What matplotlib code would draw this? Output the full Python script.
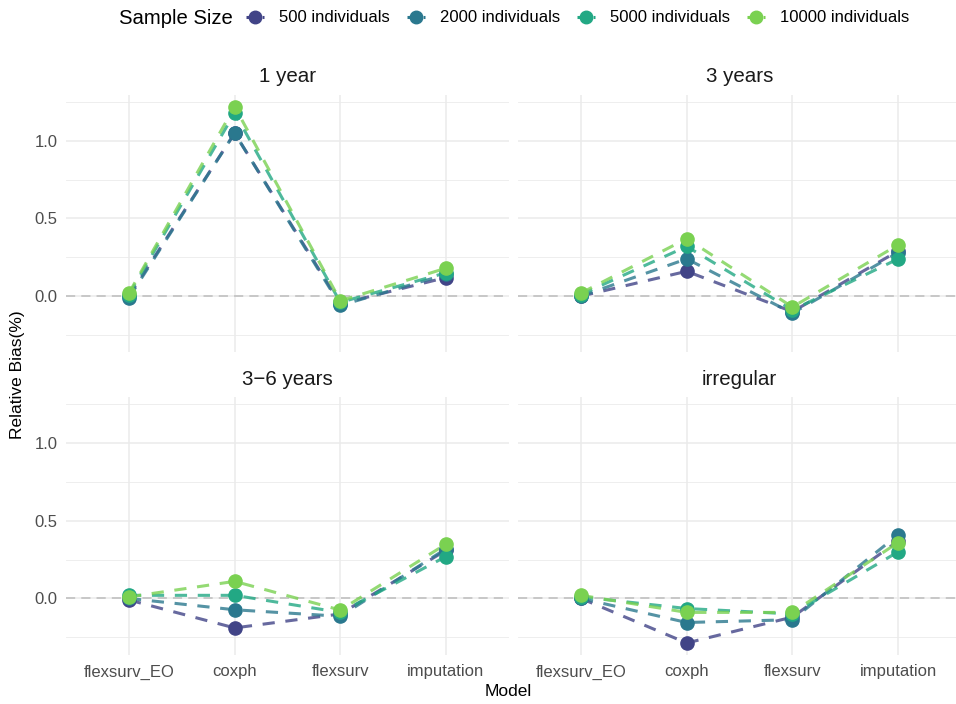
import matplotlib
matplotlib.use("Agg")
import matplotlib.pyplot as plt
from matplotlib.lines import Line2D
from matplotlib.ticker import MultipleLocator

plt.rcParams["font.family"] = ["Liberation Sans", "DejaVu Sans"]

models = ["flexsurv_EO", "coxph", "flexsurv", "imputation"]
sizes = ["500 individuals", "2000 individuals", "5000 individuals", "10000 individuals"]
colors = ["#414487", "#2A788E", "#22A884", "#7AD151"]
panels = ["1 year", "3 years", "3\u22126 years", "irregular"]

# Relative bias (%) per panel, one list per sample size (model order as above)
bias_1y = [
    [0.00, 1.05, -0.05, 0.12],
    [-0.01, 1.05, -0.06, 0.14],
    [0.01, 1.18, -0.04, 0.15],
    [0.02, 1.22, -0.03, 0.18],
]
bias_3y = [
    [0.00, 0.16, -0.10, 0.29],
    [0.00, 0.24, -0.11, 0.28],
    [0.01, 0.32, -0.09, 0.24],
    [0.02, 0.37, -0.07, 0.33],
]
bias_3_6y = [
    [-0.01, -0.19, -0.10, 0.31],
    [0.00, -0.073, -0.115, 0.32],
    [0.02, 0.02, -0.09, 0.27],
    [0.01, 0.11, -0.075, 0.35],
]
bias_irr = [
    [0.00, -0.287, -0.12, 0.37],
    [0.00, -0.155, -0.137, 0.41],
    [0.01, -0.065, -0.10, 0.30],
    [0.02, -0.09, -0.09, 0.36],
]
panel_data = [bias_1y, bias_3y, bias_3_6y, bias_irr]

W, H = 956, 704
fig = plt.figure(figsize=(W / 100, H / 100), dpi=100)

# panel boxes in pixels: (left, top, right, bottom)
boxes = [
    (65.6, 95.0, 509.4, 352.4),
    (517.6, 95.0, 961.5, 352.4),
    (65.6, 397.3, 509.4, 654.7),
    (517.6, 397.3, 961.5, 654.7),
]

all_vals = [v for d in panel_data for s in d for v in s]
lo, hi = min(all_vals), max(all_vals)
pad = (hi - lo) * 0.05
ylim = (lo - pad, hi + pad)
x = list(range(len(models)))

tick_col = "#4D4D4D"
for i, (name, data, (l, t, r, b)) in enumerate(zip(panels, panel_data, boxes)):
    ax = fig.add_axes([l / W, 1 - b / H, (r - l) / W, (b - t) / H])
    ax.set_xlim(-0.6, len(models) - 1 + 0.6)
    ax.set_ylim(*ylim)
    for s in ax.spines.values():
        s.set_visible(False)
    ax.yaxis.set_major_locator(MultipleLocator(0.5))
    ax.yaxis.set_minor_locator(MultipleLocator(0.25))
    ax.set_xticks(x)
    ax.grid(True, which="major", color="#EBEBEB", lw=1.1, zorder=0)
    ax.grid(True, which="minor", axis="y", color="#EBEBEB", lw=0.6, zorder=0)
    ax.set_axisbelow(True)
    ax.tick_params(which="both", length=0, colors=tick_col, labelsize=12)
    ax.tick_params(axis="x", pad=7)
    ax.tick_params(axis="y", pad=6)
    if i >= 2:
        ax.set_xticklabels(models)
    else:
        ax.set_xticklabels([])
    if i % 2 == 0:
        ax.set_yticks([0.0, 0.5, 1.0])
        ax.set_yticklabels(["0.0", "0.5", "1.0"])
    else:
        ax.set_yticklabels([])
    ax.axhline(0, color="#BDBDBD", lw=1.1, dashes=(6, 4), zorder=1)
    for vals, c in zip(data, colors):
        ax.plot(x, vals, color=c, lw=2.2, dashes=(4, 3.5), alpha=0.8, zorder=2)
    for vals, c in zip(data, colors):
        ax.plot(x, vals, ls="none", marker="o", ms=9.5, color=c, zorder=3)
    fig.text(((l + r) / 2) / W, 1 - (t - 18) / H, name, ha="center", va="center",
             fontsize=14.8, color="#1A1A1A")

fig.text(508 / W, 1 - 691 / H, "Model", ha="center", va="center", fontsize=12.5)
fig.text(18 / W, 1 - 375 / H, "Relative Bias(%)", ha="center", va="center",
         rotation=90, fontsize=12.5)

handles = [Line2D([0, 1], [0, 0], color=c, lw=2.2, ls="--", marker="o", ms=9,
                  markevery=[1]) for c in colors]
fig.text(119 / W, 1 - 18 / H, "Sample Size", ha="left", va="center", fontsize=14.6)
leg = fig.legend(handles, sizes, loc="center left", bbox_to_anchor=(246 / W, 1 - 18 / H),
                 ncol=4, frameon=False, fontsize=12, handlelength=1.1,
                 handletextpad=0.9, columnspacing=1.0, borderpad=0, borderaxespad=0)

fig.savefig("out.png", dpi=100, facecolor="white")
